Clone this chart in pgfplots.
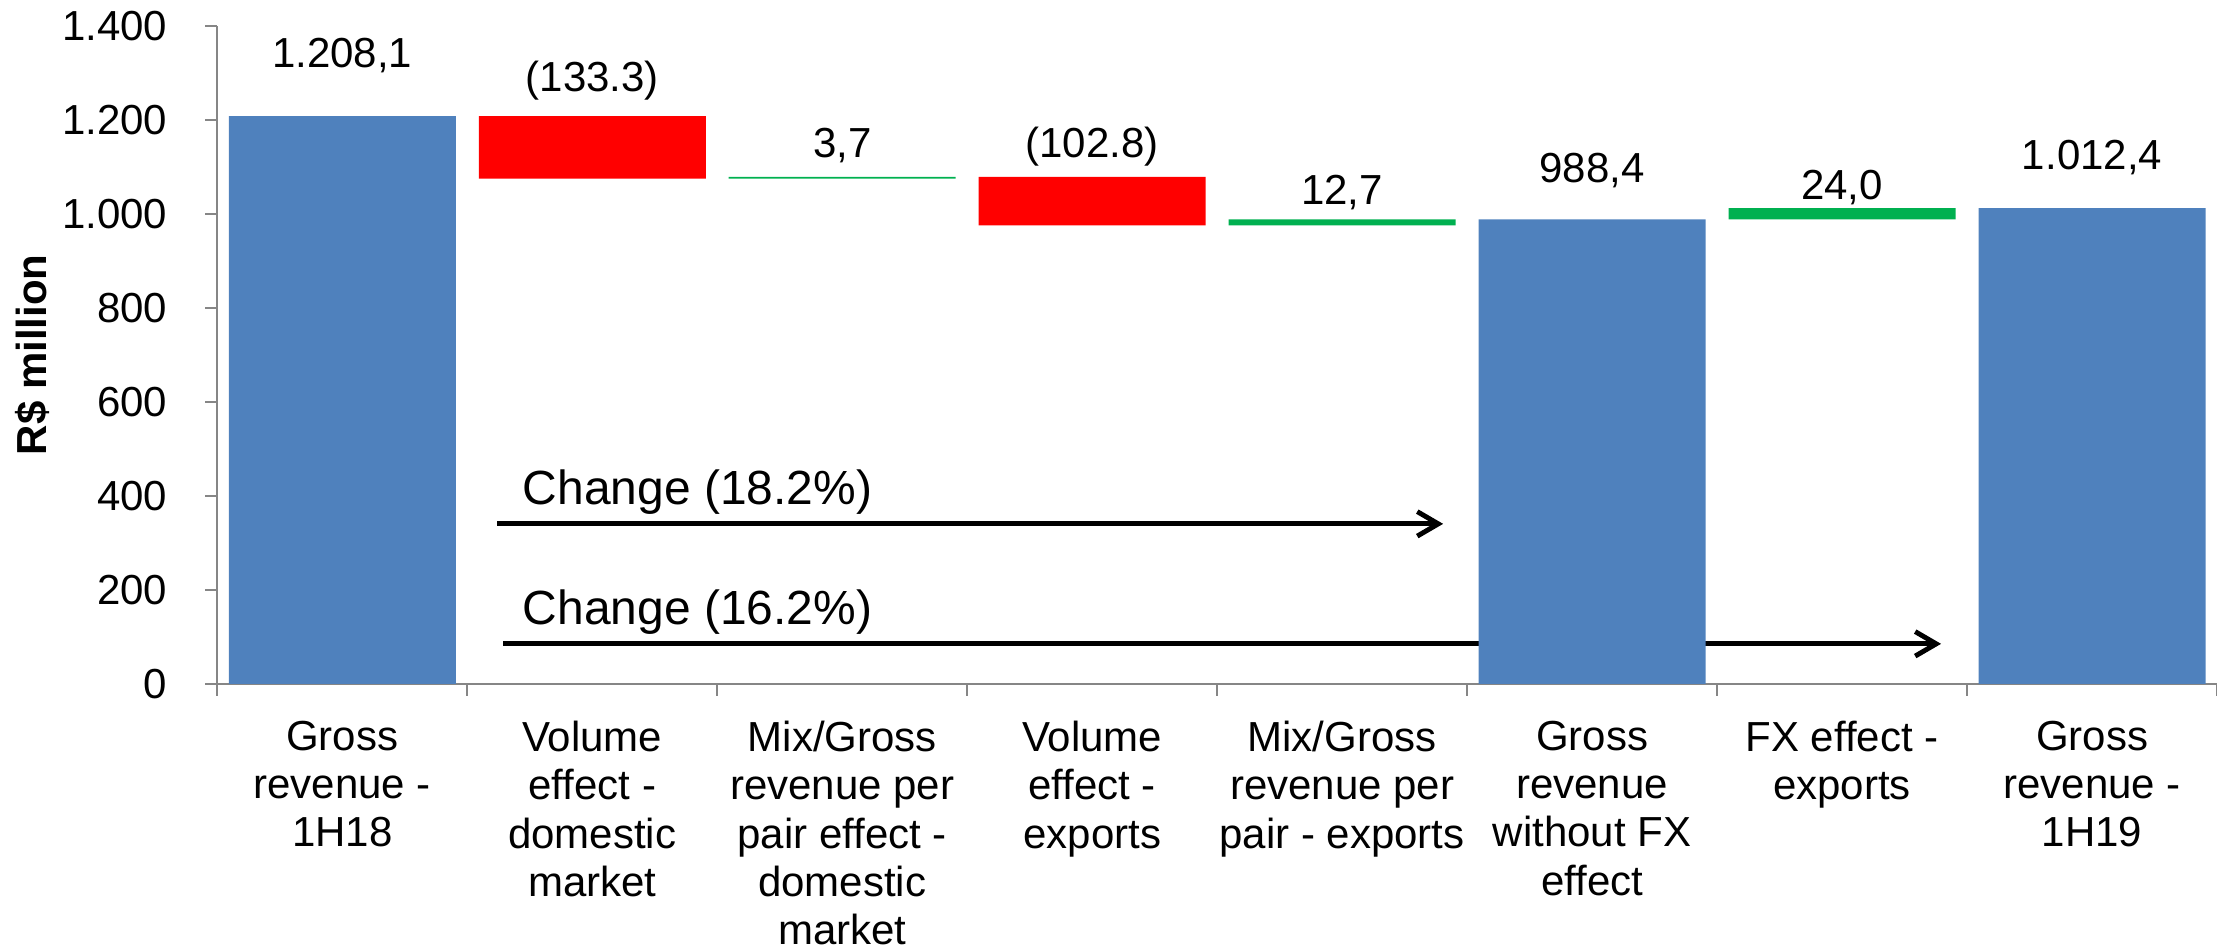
\documentclass[border=0pt]{standalone}
\usepackage{fontspec}
\setmainfont{Liberation Sans}
\usepackage{pgfplots}
\pgfplotsset{compat=1.18}
\usetikzlibrary{arrows.meta}

\definecolor{barblue}{HTML}{4F81BD}
\definecolor{barred}{HTML}{FF0000}
\definecolor{bargreen}{HTML}{00B050}
\definecolor{axisgray}{HTML}{868686}

\tikzset{dlabel/.style={anchor=base, font=\fontsize{12}{14.3}\selectfont}}

\begin{document}
\begin{tikzpicture}
\begin{axis}[
    at={(0,0)}, anchor=south west,
    width=571.4pt, height=188pt, scale only axis,
    xmin=-0.5, xmax=7.5, ymin=0, ymax=1400,
    ybar stacked, bar width=0.908,
    axis lines*=left,
    axis line style={axisgray, line width=0.6pt},
    clip=false,
    ytick={0,200,...,1400},
    xtick={0,...,7},
    xticklabels={
        {Gross\\revenue -\\1H18},
        {Volume\\effect -\\domestic\\market},
        {Mix/Gross\\revenue per\\pair effect -\\domestic\\market},
        {Volume\\effect -\\exports},
        {Mix/Gross\\revenue per\\pair - exports},
        {Gross\\revenue\\without FX\\effect},
        {FX effect -\\exports},
        {Gross\\revenue -\\1H19}},
    major x tick style={draw=none},
    minor xtick={-0.5,0.5,...,7.5},
    tick align=outside,
    major tick length=3.4pt, minor tick length=3.4pt,
    tick style={axisgray, line width=0.6pt},
    ticklabel style={font=\fontsize{12}{13.8}\selectfont},
    xticklabel style={align=center, anchor=north, yshift=-3.7pt},
    yticklabel style={xshift=-7.4pt},
    ylabel={\textbf{R\$ million}},
    ylabel style={font=\fontsize{12}{14.3}\selectfont, at={(axis description cs:-0.0925,0.5)}, anchor=center},
    /pgf/number format/1000 sep={.},
    /pgf/number format/assume math mode=true,
]
% invisible base of the floating bars
\addplot[draw=none, fill=none] coordinates {
    (0,0) (1,1074.8) (2,1074.8) (3,975.7) (4,975.7) (5,0) (6,988.4) (7,0)};
% totals
\addplot[draw=none, fill=barblue] coordinates {
    (0,1208.1) (1,0) (2,0) (3,0) (4,0) (5,988.4) (6,0) (7,1012.4)};
% decreases
\addplot[draw=none, fill=barred] coordinates {
    (0,0) (1,133.3) (2,0) (3,102.8) (4,0) (5,0) (6,0) (7,0)};
% increases
\addplot[draw=none, fill=bargreen] coordinates {
    (0,0) (1,0) (2,3.7) (3,0) (4,12.7) (5,0) (6,24.0) (7,0)};

% data labels
\node[dlabel] at (axis cs:0,1312) {1.208,1};
\node[dlabel] at (axis cs:1,1260) {(133.3)};
\node[dlabel] at (axis cs:2,1119) {3,7};
\node[dlabel] at (axis cs:3,1121) {(102.8)};
\node[dlabel] at (axis cs:4,1019) {12,7};
\node[dlabel] at (axis cs:5,1066) {988,4};
\node[dlabel] at (axis cs:6,1030) {24,0};
\node[dlabel] at (axis cs:7,1094) {1.012,4};

% change arrows
\draw[line width=1.4pt, -{Straight Barb[length=6pt,width=7pt]}]
    (axis cs:0.62,340.4) -- (axis cs:4.404,340.4);
\draw[line width=1.4pt, -{Straight Barb[length=6pt,width=7pt]}]
    (axis cs:0.644,85.1) -- (axis cs:6.396,85.1);
\node[anchor=base west, inner sep=0pt, font=\fontsize{13.7}{16}\selectfont]
    at (axis cs:0.72,380.9) {Change (18.2\%)};
\node[anchor=base west, inner sep=0pt, font=\fontsize{13.7}{16}\selectfont]
    at (axis cs:0.72,125.5) {Change (16.2\%)};
\end{axis}
\pgfresetboundingbox
\path (-62.1pt,-75.7pt) rectangle (571.4pt,195.4pt);
\end{tikzpicture}
\end{document}
